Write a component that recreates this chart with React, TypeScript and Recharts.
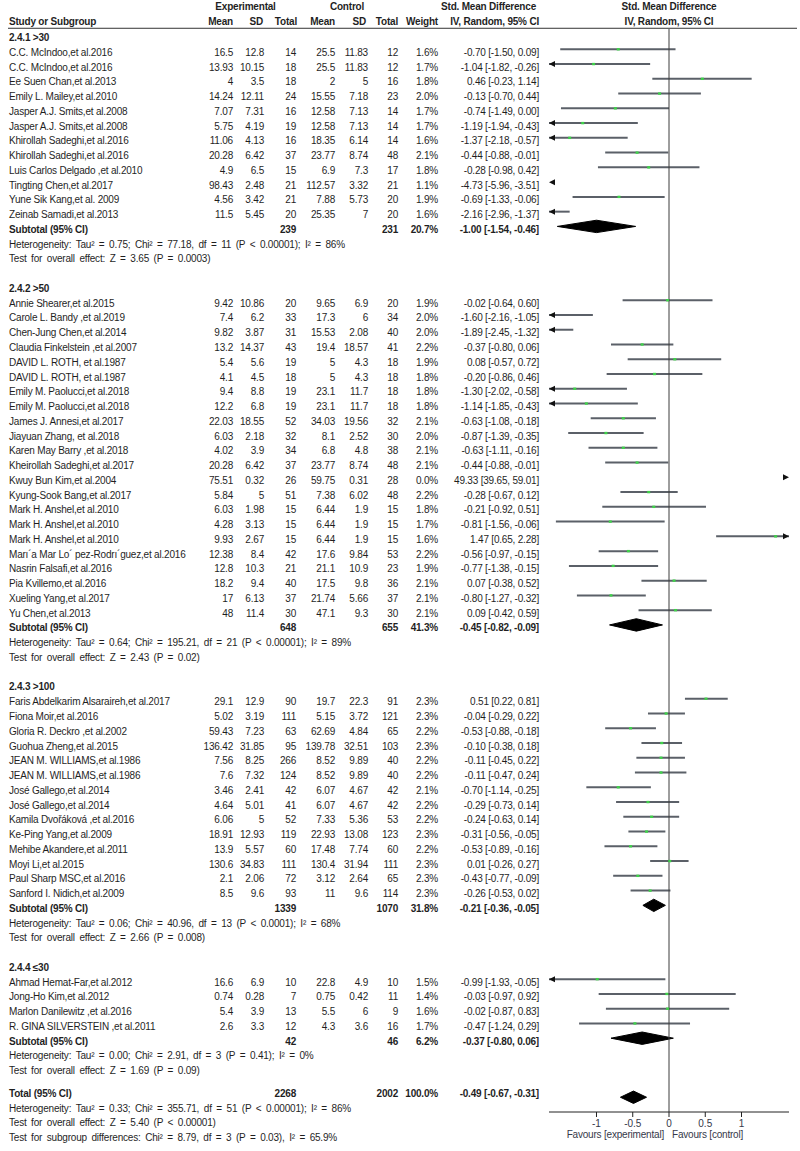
import React from "react";
import { ComposedChart, XAxis, YAxis, Scatter, ErrorBar, Area, Line, Label } from "recharts";

const FONT = "'Liberation Sans', Arial, Helvetica, sans-serif";
const INK = "#1f1f1f";

// name, exp mean, exp SD, exp total, ctl mean, ctl SD, ctl total, weight, SMD, lower, upper
type StudyRow = [string, string, string, string, string, string, string, string, number, number, number];

const studies241: StudyRow[] = [
    ["C.C. McIndoo,et al.2016", "16.5", "12.8", "14", "25.5", "11.83", "12", "1.6%", -0.7, -1.5, 0.09],
    ["C.C. McIndoo,et al.2016", "13.93", "10.15", "18", "25.5", "11.83", "12", "1.7%", -1.04, -1.82, -0.26],
    ["Ee Suen Chan,et al.2013", "4", "3.5", "18", "2", "5", "16", "1.8%", 0.46, -0.23, 1.14],
    ["Emily L. Mailey,et al.2010", "14.24", "12.11", "24", "15.55", "7.18", "23", "2.0%", -0.13, -0.7, 0.44],
    ["Jasper A.J. Smits,et al.2008", "7.07", "7.31", "16", "12.58", "7.13", "14", "1.7%", -0.74, -1.49, 0.0],
    ["Jasper A.J. Smits,et al.2008", "5.75", "4.19", "19", "12.58", "7.13", "14", "1.7%", -1.19, -1.94, -0.43],
    ["Khirollah Sadeghi,et al.2016", "11.06", "4.13", "16", "18.35", "6.14", "14", "1.6%", -1.37, -2.18, -0.57],
    ["Khirollah Sadeghi,et al.2016", "20.28", "6.42", "37", "23.77", "8.74", "48", "2.1%", -0.44, -0.88, -0.01],
    ["Luis Carlos Delgado ,et al.2010", "4.9", "6.5", "15", "6.9", "7.3", "17", "1.8%", -0.28, -0.98, 0.42],
    ["Tingting Chen,et al.2017", "98.43", "2.48", "21", "112.57", "3.32", "21", "1.1%", -4.73, -5.96, -3.51],
    ["Yune Sik Kang,et al. 2009", "4.56", "3.42", "21", "7.88", "5.73", "20", "1.9%", -0.69, -1.33, -0.06],
    ["Zeinab Samadi,et al.2013", "11.5", "5.45", "20", "25.35", "7", "20", "1.6%", -2.16, -2.96, -1.37],
];

const studies242: StudyRow[] = [
    ["Annie Shearer,et al.2015", "9.42", "10.86", "20", "9.65", "6.9", "20", "1.9%", -0.02, -0.64, 0.6],
    ["Carole L. Bandy ,et al.2019", "7.4", "6.2", "33", "17.3", "6", "34", "2.0%", -1.6, -2.16, -1.05],
    ["Chen-Jung Chen,et al.2014", "9.82", "3.87", "31", "15.53", "2.08", "40", "2.0%", -1.89, -2.45, -1.32],
    ["Claudia Finkelstein ,et al.2007", "13.2", "14.37", "43", "19.4", "18.57", "41", "2.2%", -0.37, -0.8, 0.06],
    ["DAVID L. ROTH, et al.1987", "5.4", "5.6", "19", "5", "4.3", "18", "1.9%", 0.08, -0.57, 0.72],
    ["DAVID L. ROTH, et al.1987", "4.1", "4.5", "18", "5", "4.3", "18", "1.8%", -0.2, -0.86, 0.46],
    ["Emily M. Paolucci,et al.2018", "9.4", "8.8", "19", "23.1", "11.7", "18", "1.8%", -1.3, -2.02, -0.58],
    ["Emily M. Paolucci,et al.2018", "12.2", "6.8", "19", "23.1", "11.7", "18", "1.8%", -1.14, -1.85, -0.43],
    ["James J. Annesi,et al.2017", "22.03", "18.55", "52", "34.03", "19.56", "32", "2.1%", -0.63, -1.08, -0.18],
    ["Jiayuan Zhang, et al.2018", "6.03", "2.18", "32", "8.1", "2.52", "30", "2.0%", -0.87, -1.39, -0.35],
    ["Karen May Barry ,et al.2018", "4.02", "3.9", "34", "6.8", "4.8", "38", "2.1%", -0.63, -1.11, -0.16],
    ["Kheirollah Sadeghi,et al.2017", "20.28", "6.42", "37", "23.77", "8.74", "48", "2.1%", -0.44, -0.88, -0.01],
    ["Kwuy Bun Kim,et al.2004", "75.51", "0.32", "26", "59.75", "0.31", "28", "0.0%", 49.33, 39.65, 59.01],
    ["Kyung-Sook Bang,et al.2017", "5.84", "5", "51", "7.38", "6.02", "48", "2.2%", -0.28, -0.67, 0.12],
    ["Mark H. Anshel,et al.2010", "6.03", "1.98", "15", "6.44", "1.9", "15", "1.8%", -0.21, -0.92, 0.51],
    ["Mark H. Anshel,et al.2010", "4.28", "3.13", "15", "6.44", "1.9", "15", "1.7%", -0.81, -1.56, -0.06],
    ["Mark H. Anshel,et al.2010", "9.93", "2.67", "15", "6.44", "1.9", "15", "1.6%", 1.47, 0.65, 2.28],
    ["Marı´a Mar Lo´ pez-Rodrı´guez,et al.2016", "12.38", "8.4", "42", "17.6", "9.84", "53", "2.2%", -0.56, -0.97, -0.15],
    ["Nasrin Falsafi,et al.2016", "12.8", "10.3", "21", "21.1", "10.9", "23", "1.9%", -0.77, -1.38, -0.15],
    ["Pia Kvillemo,et al.2016", "18.2", "9.4", "40", "17.5", "9.8", "36", "2.1%", 0.07, -0.38, 0.52],
    ["Xueling Yang,et al.2017", "17", "6.13", "37", "21.74", "5.66", "37", "2.1%", -0.8, -1.27, -0.32],
    ["Yu Chen,et al.2013", "48", "11.4", "30", "47.1", "9.3", "30", "2.1%", 0.09, -0.42, 0.59],
];

const studies243: StudyRow[] = [
    ["Faris Abdelkarim Alsaraireh,et al.2017", "29.1", "12.9", "90", "19.7", "22.3", "91", "2.3%", 0.51, 0.22, 0.81],
    ["Fiona Moir,et al.2016", "5.02", "3.19", "111", "5.15", "3.72", "121", "2.3%", -0.04, -0.29, 0.22],
    ["Gloria R. Deckro ,et al.2002", "59.43", "7.23", "63", "62.69", "4.84", "65", "2.2%", -0.53, -0.88, -0.18],
    ["Guohua Zheng,et al.2015", "136.42", "31.85", "95", "139.78", "32.51", "103", "2.3%", -0.1, -0.38, 0.18],
    ["JEAN M. WILLIAMS,et al.1986", "7.56", "8.25", "266", "8.52", "9.89", "40", "2.2%", -0.11, -0.45, 0.22],
    ["JEAN M. WILLIAMS,et al.1986", "7.6", "7.32", "124", "8.52", "9.89", "40", "2.2%", -0.11, -0.47, 0.24],
    ["José Gallego,et al.2014", "3.46", "2.41", "42", "6.07", "4.67", "42", "2.1%", -0.7, -1.14, -0.25],
    ["José Gallego,et al.2014", "4.64", "5.01", "41", "6.07", "4.67", "42", "2.2%", -0.29, -0.73, 0.14],
    ["Kamila Dvořáková ,et al.2016", "6.06", "5", "52", "7.33", "5.36", "53", "2.2%", -0.24, -0.63, 0.14],
    ["Ke-Ping Yang,et al.2009", "18.91", "12.93", "119", "22.93", "13.08", "123", "2.3%", -0.31, -0.56, -0.05],
    ["Mehibe Akandere,et al.2011", "13.9", "5.57", "60", "17.48", "7.74", "60", "2.2%", -0.53, -0.89, -0.16],
    ["Moyi Li,et al.2015", "130.6", "34.83", "111", "130.4", "31.94", "111", "2.3%", 0.01, -0.26, 0.27],
    ["Paul Sharp MSC,et al.2016", "2.1", "2.06", "72", "3.12", "2.64", "65", "2.3%", -0.43, -0.77, -0.09],
    ["Sanford I. Nidich,et al.2009", "8.5", "9.6", "93", "11", "9.6", "114", "2.3%", -0.26, -0.53, 0.02],
];

const studies244: StudyRow[] = [
    ["Ahmad Hemat-Far,et al.2012", "16.6", "6.9", "10", "22.8", "4.9", "10", "1.5%", -0.99, -1.93, -0.05],
    ["Jong-Ho Kim,et al.2012", "0.74", "0.28", "7", "0.75", "0.42", "11", "1.4%", -0.03, -0.97, 0.92],
    ["Marlon Danilewitz ,et al.2016", "5.4", "3.9", "13", "5.5", "6", "9", "1.6%", -0.02, -0.87, 0.83],
    ["R. GINA SILVERSTEIN ,et al.2011", "2.6", "3.3", "12", "4.3", "3.6", "16", "1.7%", -0.47, -1.24, 0.29],
];

const subgroupLabels = ["2.4.1 >30", "2.4.2 >50", "2.4.3 >100", "2.4.4 ≤30"];
const subgroupStudies = [studies241, studies242, studies243, studies244];
const subtotalExpN = ["239", "648", "1339", "42"];
const subtotalCtlN = ["231", "655", "1070", "46"];
const subtotalWeight = ["20.7%", "41.3%", "31.8%", "6.2%"];
const subtotalSmd = [-1.0, -0.45, -0.21, -0.37];
const subtotalLo = [-1.54, -0.82, -0.36, -0.8];
const subtotalHi = [-0.46, -0.09, -0.05, 0.06];
const subtotalHeterogeneity = [
    "Heterogeneity: Tau² = 0.75; Chi² = 77.18, df = 11 (P < 0.00001); I² = 86%",
    "Heterogeneity: Tau² = 0.64; Chi² = 195.21, df = 21 (P < 0.00001); I² = 89%",
    "Heterogeneity: Tau² = 0.06; Chi² = 40.96, df = 13 (P < 0.0001); I² = 68%",
    "Heterogeneity: Tau² = 0.00; Chi² = 2.91, df = 3 (P = 0.41); I² = 0%",
];
const subtotalEffect = [
    "Test for overall effect: Z = 3.65 (P = 0.0003)",
    "Test for overall effect: Z = 2.43 (P = 0.02)",
    "Test for overall effect: Z = 2.66 (P = 0.008)",
    "Test for overall effect: Z = 1.69 (P = 0.09)",
];

const totalCounts = ["2268", "2002", "100.0%"];
const totalEstimate = [-0.49, -0.67, -0.31];
const totalNotes = [
    "Heterogeneity: Tau² = 0.33; Chi² = 355.71, df = 51 (P < 0.00001); I² = 86%",
    "Test for overall effect: Z = 5.40 (P < 0.00001)",
    "Test for subgroup differences: Chi² = 8.79, df = 3 (P = 0.03), I² = 65.9%",
];

const xTicks = [-1, -0.5, 0, 0.5, 1];
const X_MIN = -1.655;
const X_MAX = 1.655;
const Y_TOP = -0.375;
const Y_BOTTOM = 73;
const DIAMOND_H = 0.42;

// column anchors (right edges unless noted)
const COL = { name: 9, em: 233, esd: 264, en: 296, cm: 335, csd: 368, cn: 398, w: 438, ci: 539 };

const fmt = (v: number) => v.toFixed(2);
const ciText = (m: number, lo: number, hi: number) => `${fmt(m)} [${fmt(lo)}, ${fmt(hi)}]`;

type Row = {
    idx: number;
    kind: "header" | "heading" | "study" | "subtotal" | "note" | "total";
    text?: string;
    study?: StudyRow;
    cells?: string[];
    late?: boolean;
};

const rows: Row[] = [{ idx: -1, kind: "header" }];
const diamonds: { x: number; r: [number, number] }[][] = [];
let cursor = 0;
subgroupLabels.forEach((label, g) => {
    rows.push({ idx: cursor++, kind: "heading", text: label });
    subgroupStudies[g].forEach((st) => rows.push({ idx: cursor++, kind: "study", study: st }));
    const sub = cursor++;
    rows.push({
        idx: sub,
        kind: "subtotal",
        text: "Subtotal (95% CI)",
        cells: [subtotalExpN[g], subtotalCtlN[g], subtotalWeight[g], ciText(subtotalSmd[g], subtotalLo[g], subtotalHi[g])],
    });
    diamonds.push([
        { x: subtotalLo[g], r: [sub, sub] },
        { x: subtotalSmd[g], r: [sub - DIAMOND_H, sub + DIAMOND_H] },
        { x: subtotalHi[g], r: [sub, sub] },
    ]);
    rows.push({ idx: cursor++, kind: "note", text: subtotalHeterogeneity[g] });
    rows.push({ idx: cursor++, kind: "note", text: subtotalEffect[g] });
    cursor++;
});
const totalIdx = cursor++;
rows.push({
    idx: totalIdx,
    kind: "total",
    late: true,
    text: "Total (95% CI)",
    cells: [totalCounts[0], totalCounts[1], totalCounts[2], ciText(totalEstimate[0], totalEstimate[1], totalEstimate[2])],
});
diamonds.push([
    { x: totalEstimate[1], r: [totalIdx, totalIdx] },
    { x: totalEstimate[0], r: [totalIdx - DIAMOND_H, totalIdx + DIAMOND_H] },
    { x: totalEstimate[2], r: [totalIdx, totalIdx] },
]);
totalNotes.forEach((t) => rows.push({ idx: cursor++, kind: "note", text: t, late: true }));

const rowMap = new Map(rows.map((r) => [r.idx, r]));
const rowTicks = rows.map((r) => r.idx);

const studyRows = rows.filter((r) => r.kind === "study");

// visible part of each CI, cut at the axis limits
const ciSegments = studyRows
    .map((r) => {
        const [, , , , , , , , , lo, hi] = r.study!;
        const a = Math.max(lo, X_MIN);
        const b = Math.min(hi, X_MAX);
        return { x: a, y: r.idx, span: [0, b - a] };
    })
    .filter((p) => p.span[1] > 0);

const markerPoints = studyRows
    .map((r) => ({ x: r.study![8], y: r.idx }))
    .filter((p) => p.x >= X_MIN && p.x <= X_MAX);

const arrowPoints = studyRows.flatMap((r) => {
    const [, , , , , , , , , lo, hi] = r.study!;
    const out: { x: number; y: number; dir: number }[] = [];
    if (lo < X_MIN) out.push({ x: X_MIN, y: r.idx, dir: -1 });
    if (hi > X_MAX) out.push({ x: X_MAX, y: r.idx, dir: 1 });
    return out;
});

const zeroLine = [
    { x: 0, y: Y_TOP },
    { x: 0, y: Y_BOTTOM },
];

function T({ x, y, anchor = "start", bold = false, wide = false, children }: any) {
    return (
        <text
            x={x}
            y={y}
            dy="0.35em"
            textAnchor={anchor}
            fontFamily={FONT}
            fontSize={10}
            fontWeight={bold ? 700 : 400}
            fill={INK}
            letterSpacing={-0.2}
            wordSpacing={wide ? 2 : 0}
        >
            {children}
        </text>
    );
}

function RowTick(props: any) {
    const { y, payload } = props;
    const row = rowMap.get(payload.value);
    if (!row) return null;
    if (row.kind === "header") {
        const y1 = y - 12.8;
        const y2 = y + 2.2;
        return (
            <g>
                <T x={245.5} y={y1} anchor="middle" bold>Experimental</T>
                <T x={347} y={y1} anchor="middle" bold>Control</T>
                <T x={536} y={y1} anchor="end" bold>Std. Mean Difference</T>
                <T x={669} y={y1} anchor="middle" bold>Std. Mean Difference</T>
                <T x={COL.name} y={y2} bold>Study or Subgroup</T>
                <T x={COL.em} y={y2} anchor="end" bold>Mean</T>
                <T x={263} y={y2} anchor="end" bold>SD</T>
                <T x={297} y={y2} anchor="end" bold>Total</T>
                <T x={COL.cm} y={y2} anchor="end" bold>Mean</T>
                <T x={366} y={y2} anchor="end" bold>SD</T>
                <T x={COL.cn} y={y2} anchor="end" bold>Total</T>
                <T x={COL.w} y={y2} anchor="end" bold>Weight</T>
                <T x={COL.ci} y={y2} anchor="end" bold>IV, Random, 95% CI</T>
                <T x={669} y={y2} anchor="middle" bold>IV, Random, 95% CI</T>
                <line x1={8} x2={797} y1={y + 8.5} y2={y + 8.5} stroke="#333" strokeWidth={1} />
            </g>
        );
    }
    const ty = row.late ? y - 4 : y + 3;
    if (row.kind === "heading") {
        return <T x={COL.name} y={ty} bold>{row.text}</T>;
    }
    if (row.kind === "note") {
        return <T x={COL.name} y={ty} wide>{row.text}</T>;
    }
    if (row.kind === "subtotal" || row.kind === "total") {
        const [en, cn, w, ci] = row.cells!;
        return (
            <g>
                <T x={COL.name} y={ty} bold>{row.text}</T>
                <T x={COL.en} y={ty} anchor="end" bold>{en}</T>
                <T x={COL.cn} y={ty} anchor="end" bold>{cn}</T>
                <T x={COL.w} y={ty} anchor="end" bold>{w}</T>
                <T x={COL.ci} y={ty} anchor="end" bold>{ci}</T>
            </g>
        );
    }
    const [name, em, esd, en, cm, csd, cn, w, m, lo, hi] = row.study!;
    return (
        <g>
            <T x={COL.name} y={ty}>{name}</T>
            <T x={COL.em} y={ty} anchor="end">{em}</T>
            <T x={COL.esd} y={ty} anchor="end">{esd}</T>
            <T x={COL.en} y={ty} anchor="end">{en}</T>
            <T x={COL.cm} y={ty} anchor="end">{cm}</T>
            <T x={COL.csd} y={ty} anchor="end">{csd}</T>
            <T x={COL.cn} y={ty} anchor="end">{cn}</T>
            <T x={COL.w} y={ty} anchor="end">{w}</T>
            <T x={COL.ci} y={ty} anchor="end">{ciText(m, lo, hi)}</T>
        </g>
    );
}

function FavoursLabel(props: any) {
    const vb = props.viewBox;
    const cx = vb.x + vb.width / 2;
    const y = vb.y + 22;
    const style = { fontFamily: FONT, fontSize: 10, fill: "#35394a", letterSpacing: -0.2 };
    return (
        <g>
            <text x={cx - 5} y={y} dy="0.35em" textAnchor="end" {...style}>Favours [experimental]</text>
            <text x={cx + 3} y={y} dy="0.35em" textAnchor="start" {...style}>Favours [control]</text>
        </g>
    );
}

const Nothing = () => <g />;

const Marker = (p: any) => <rect x={p.cx - 1.5} y={p.cy - 1.2} width={3} height={2.4} fill="#3fd24a" />;

const Arrow = (p: any) => {
    const d = p.payload.dir;
    const tip = p.cx;
    const base = tip - d * 6;
    return <polygon points={`${tip},${p.cy} ${base},${p.cy - 3} ${base},${p.cy + 3}`} fill="#111" />;
};

export default function App() {
    return (
        <div style={{ position: "absolute", left: 0, top: 0, width: 800, height: 1151, background: "#fff" }}>
            <ComposedChart width={800} height={1151} margin={{ top: 29, right: 11, bottom: 0, left: 0 }}>
                <XAxis
                    type="number"
                    dataKey="x"
                    domain={[X_MIN, X_MAX]}
                    allowDataOverflow
                    ticks={xTicks}
                    interval={0}
                    tickSize={5}
                    tickMargin={3}
                    height={39}
                    stroke="#222"
                    tick={{ fontSize: 10, fill: "#35394a", fontFamily: FONT }}
                    tickFormatter={(v: number) => String(v)}
                >
                    <Label content={FavoursLabel} />
                </XAxis>
                <YAxis
                    type="number"
                    dataKey="y"
                    domain={[Y_TOP, Y_BOTTOM]}
                    reversed
                    allowDataOverflow
                    ticks={rowTicks}
                    interval={0}
                    width={549}
                    axisLine={false}
                    tickLine={false}
                    tick={(p: any) => <RowTick {...p} />}
                />
                <Scatter data={ciSegments} shape={Nothing} isAnimationActive={false}>
                    <ErrorBar dataKey="span" direction="x" width={0} stroke="#5b6068" strokeWidth={2} />
                </Scatter>
                <Line data={zeroLine} dataKey="y" stroke="#3c3c3c" strokeWidth={1} dot={false} activeDot={false} isAnimationActive={false} />
                <Scatter data={markerPoints} shape={Marker} isAnimationActive={false} />
                <Scatter data={arrowPoints} shape={Arrow} isAnimationActive={false} />
                {diamonds.map((d, i) => (
                    <Area
                        key={`diamond-${i}`}
                        data={d}
                        dataKey="r"
                        type="linear"
                        stroke="#000"
                        strokeWidth={1}
                        fill="#000"
                        fillOpacity={1}
                        dot={false}
                        activeDot={false}
                        isAnimationActive={false}
                    />
                ))}
            </ComposedChart>
        </div>
    );
}
